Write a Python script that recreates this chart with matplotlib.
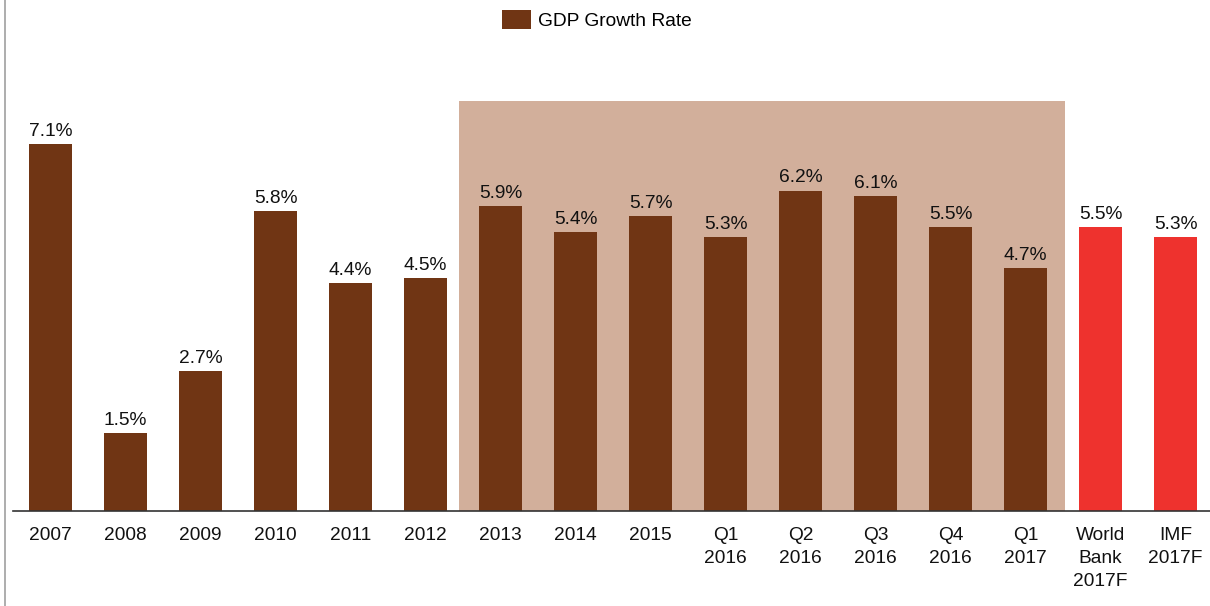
import matplotlib
matplotlib.use("Agg")
import matplotlib.pyplot as plt
from matplotlib.patches import Patch, Rectangle
from matplotlib.lines import Line2D

plt.rcParams['font.family'] = ['Liberation Sans', 'DejaVu Sans']

labels = ["2007", "2008", "2009", "2010", "2011", "2012", "2013", "2014", "2015",
          "Q1\n2016", "Q2\n2016", "Q3\n2016", "Q4\n2016", "Q1\n2017",
          "World\nBank\n2017F", "IMF\n2017F"]
growth = [7.1, 1.5, 2.7, 5.8, 4.4, 4.5, 5.9, 5.4, 5.7, 5.3, 6.2, 6.1, 5.5, 4.7, 5.5, 5.3]
forecast = [False] * 14 + [True, True]

BROWN = "#703514"
RED = "#EE322E"
SHADE = "#D2AF9B"
FS = 13.8


def main():
    fig = plt.figure(figsize=(12.1, 6.06), dpi=100)
    ax = fig.add_axes([13 / 1210, (606 - 510.5) / 606, 1 - 13 / 1210, (510.5 - 40) / 606])

    x = list(range(len(labels)))
    colors = [RED if f else BROWN for f in forecast]

    # highlight 2013 onwards (actuals)
    ax.add_patch(Rectangle((5.45, 0), 13.52 - 5.45, 7.93, facecolor=SHADE,
                           edgecolor="none", zorder=0))

    bars = ax.bar(x, growth, width=0.57, color=colors, zorder=2)
    for b, v in zip(bars, growth):
        ax.annotate(f"{v:.1f}%", (b.get_x() + b.get_width() / 2, v),
                    xytext=(0, 3), textcoords="offset points",
                    ha="center", va="bottom", fontsize=FS, color="#111111")

    ax.set_xlim(-0.5, 15.46)
    ax.set_ylim(0, 9.118)
    ax.set_xticks(x)
    ax.set_xticklabels(labels, fontsize=FS, color="#111111", va="top",
                       linespacing=1.45)
    ax.tick_params(axis="x", length=0, pad=12)
    ax.set_yticks([])
    for s in ["top", "right", "left"]:
        ax.spines[s].set_visible(False)
    ax.spines["bottom"].set_color("#333333")
    ax.spines["bottom"].set_linewidth(1.2)

    ax.legend(handles=[Patch(facecolor=BROWN, label="GDP Growth Rate")],
              loc="center", bbox_to_anchor=(597 / 1210, 1 - 20 / 606),
              bbox_transform=fig.transFigure, frameon=False, fontsize=FS,
              handlelength=1.47, handleheight=1.1, handletextpad=0.37)

    # thin frame line on the left edge
    fig.add_artist(Line2D([5 / 1210, 5 / 1210], [0, 1], color="#A0A0A0",
                          linewidth=1.2, transform=fig.transFigure))

    fig.savefig("out.png", dpi=100)


if __name__ == "__main__":
    main()
